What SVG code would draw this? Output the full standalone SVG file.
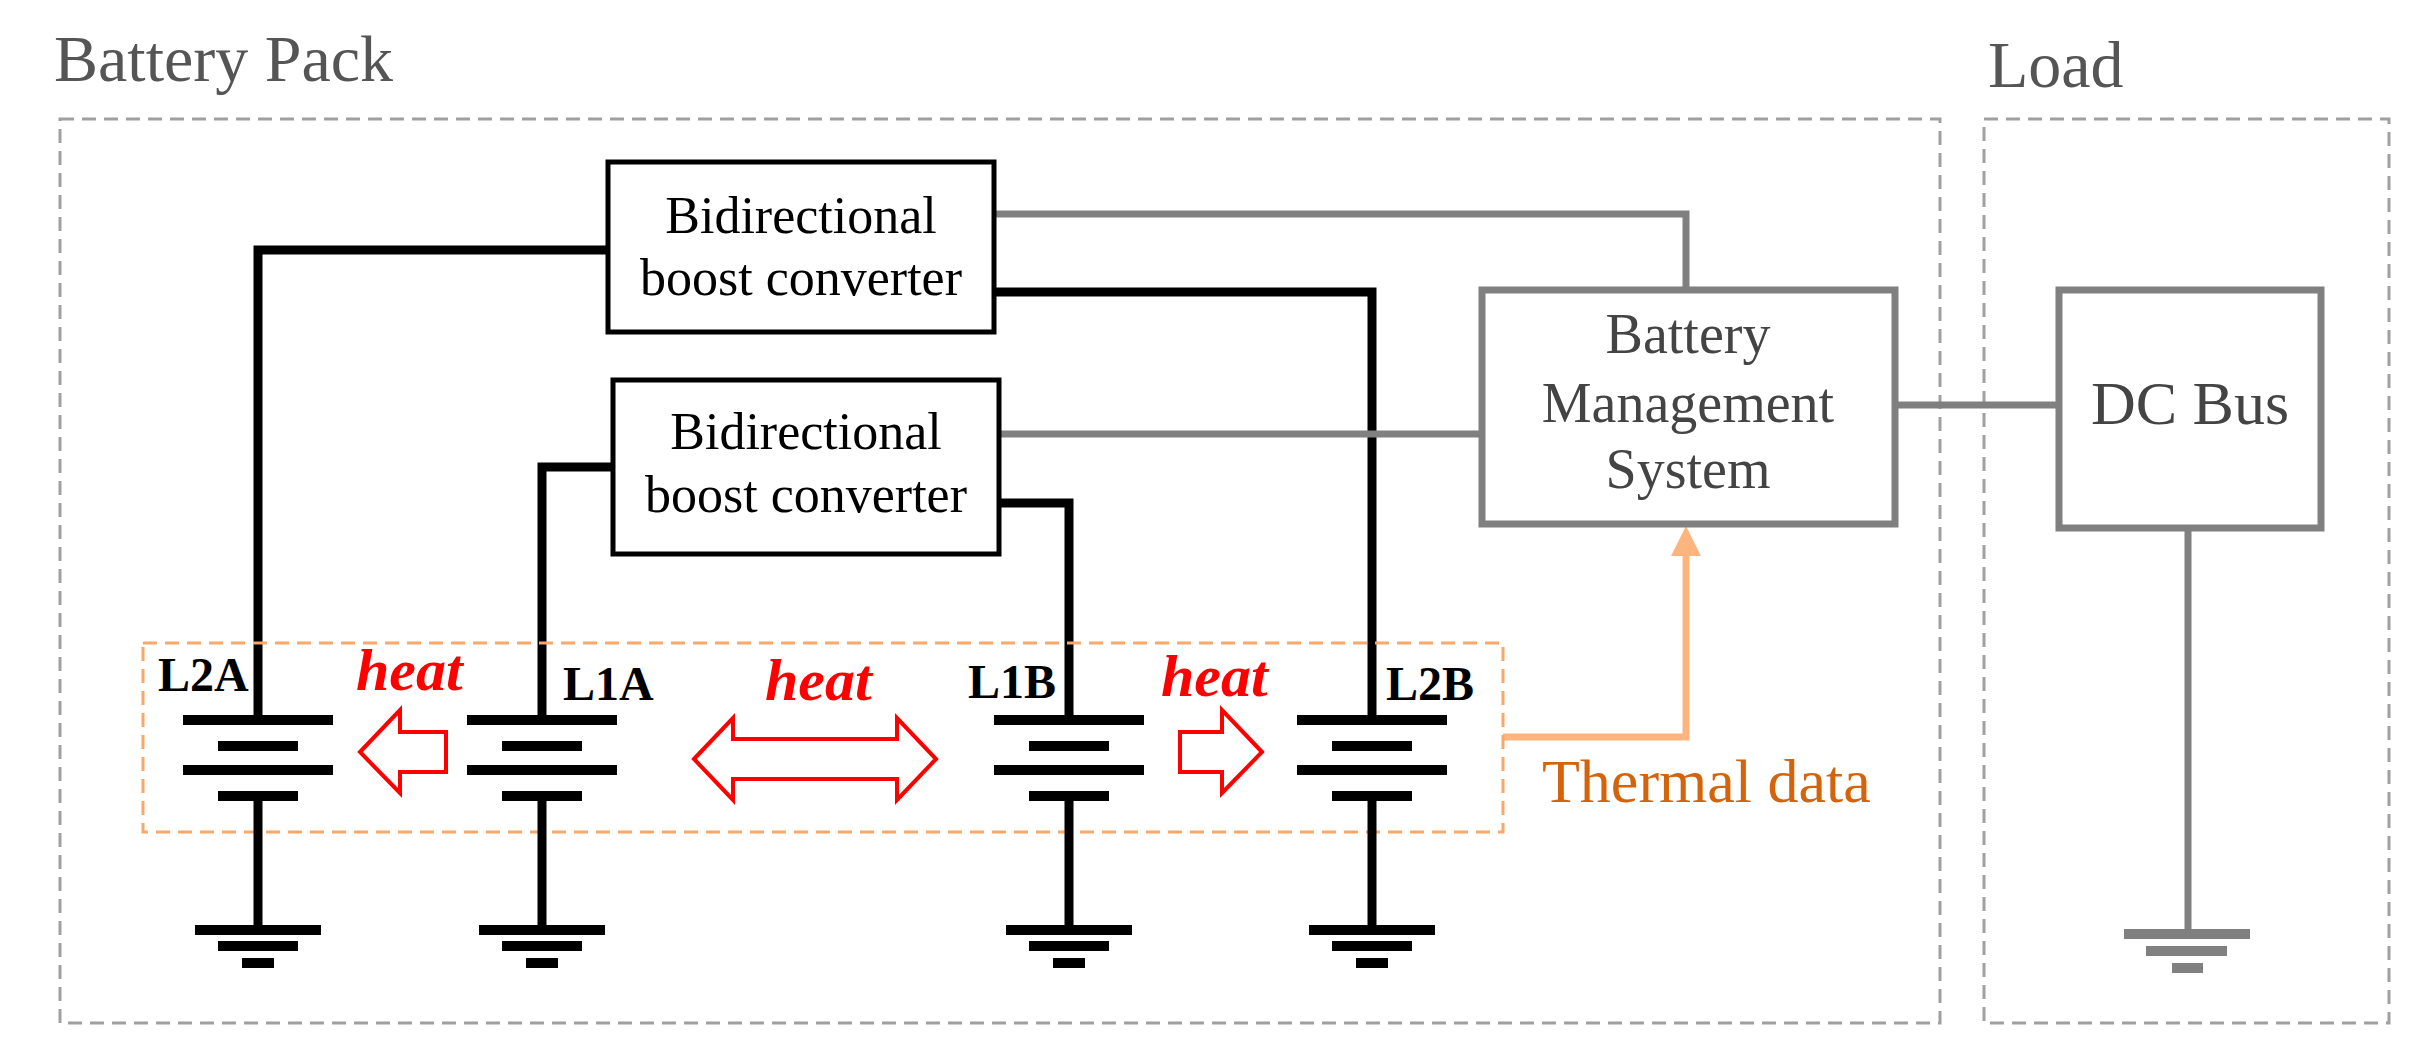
<svg xmlns="http://www.w3.org/2000/svg" width="2419" height="1050" viewBox="0 0 2419 1050">
<style>
.frame{fill:none;stroke:#a0a0a0;stroke-width:3;stroke-dasharray:14 8}
.box{fill:#fff;stroke:#000;stroke-width:5}
.gbox{fill:#fff;stroke:#808080;stroke-width:7}
.w{fill:none;stroke:#000;stroke-width:9}
.g{fill:none;stroke:#808080;stroke-width:7}
.plate{stroke:#000;stroke-width:10}
.t{font-family:"Liberation Serif",serif}
.lab{font-family:"Liberation Serif",serif;font-weight:bold;font-size:48px}
.heat{font-family:"Liberation Serif",serif;font-weight:bold;font-style:italic;font-size:60px;fill:#ff0000}
.ha{fill:#fff;stroke:#ff0000;stroke-width:4}
</style>
<g id="frames">
<rect class="frame" x="60" y="119" width="1880" height="904"/>
<rect class="frame" x="1984" y="119" width="405" height="904"/>
<text class="t" x="54" y="81" font-size="66" fill="#555">Battery  Pack</text>
<text class="t" x="1988" y="87" font-size="66" fill="#555">Load</text>
</g>
<g id="connectors">
<polyline class="w" points="608,250 258,250 258,720"/>
<polyline class="w" points="613,467 542,467 542,720"/>
<polyline class="w" points="999,503 1069,503 1069,720"/>
<polyline class="w" points="994,292 1372,292 1372,720"/>
<polyline class="g" points="994,214 1686,214 1686,290"/>
<line class="g" x1="999" y1="434" x2="1482" y2="434" stroke-width="5"/>
<line class="g" x1="1895" y1="405" x2="2059" y2="405" stroke-width="9"/>
<line class="g" x1="2188" y1="528" x2="2188" y2="934"/>
<polyline fill="none" stroke="#fdb580" stroke-width="7" points="1503,737 1686,737 1686,552"/>
<polygon fill="#fdb580" points="1686,526 1671,556 1701,556"/>
</g>
<g id="conv1"><rect class="box" x="608" y="162" width="386" height="170"/>
<text class="t" x="801" y="233" font-size="52" text-anchor="middle">Bidirectional</text>
<text class="t" x="801" y="295" font-size="52" text-anchor="middle">boost converter</text></g>
<g id="conv2"><rect class="box" x="613" y="380" width="386" height="174"/>
<text class="t" x="806" y="449" font-size="52" text-anchor="middle">Bidirectional</text>
<text class="t" x="806" y="512" font-size="52" text-anchor="middle">boost converter</text></g>
<g id="bms"><rect class="gbox" x="1482" y="290" width="413" height="234"/>
<text class="t" x="1688" y="353" font-size="56" text-anchor="middle" fill="#444">Battery</text>
<text class="t" x="1688" y="422" font-size="56" text-anchor="middle" fill="#444">Management</text>
<text class="t" x="1688" y="488" font-size="56" text-anchor="middle" fill="#444">System</text></g>
<g id="dcbus"><rect class="gbox" x="2059" y="290" width="262" height="238"/>
<text class="t" x="2190" y="424" font-size="62" text-anchor="middle" fill="#444">DC Bus</text>
<g stroke="#808080" stroke-width="10"><line x1="2124" y1="934" x2="2250" y2="934"/><line x1="2146" y1="951" x2="2227" y2="951"/><line x1="2172" y1="968" x2="2203" y2="968"/></g></g>
<g id="thermal">
<rect x="143" y="643" width="1360" height="189" fill="none" stroke="#f8a868" stroke-width="3" stroke-dasharray="14 8"/>
<text class="t" x="1542" y="802" font-size="62" fill="#d4640c">Thermal data</text>
</g>
<defs>
<g id="cell">
<line class="plate" x1="-75" y1="720" x2="75" y2="720"/>
<line class="plate" x1="-40" y1="746" x2="40" y2="746"/>
<line class="plate" x1="-75" y1="770" x2="75" y2="770"/>
<line class="plate" x1="-40" y1="796" x2="40" y2="796"/>
<line stroke="#000" stroke-width="9" x1="0" y1="796" x2="0" y2="930"/>
<line class="plate" x1="-63" y1="930" x2="63" y2="930"/>
<line class="plate" x1="-40" y1="946" x2="40" y2="946"/>
<line class="plate" x1="-16" y1="963" x2="16" y2="963"/>
</g>
</defs>
<g id="L2A"><use href="#cell" x="258"/><text class="lab" x="158" y="691">L2A</text></g>
<g id="L1A"><use href="#cell" x="542"/><text class="lab" x="563" y="700">L1A</text></g>
<g id="L1B"><use href="#cell" x="1069"/><text class="lab" x="968" y="698">L1B</text></g>
<g id="L2B"><use href="#cell" x="1372"/><text class="lab" x="1386" y="700">L2B</text></g>
<g id="heat">
<text class="heat" x="356" y="690">heat</text>
<text class="heat" x="765" y="700">heat</text>
<text class="heat" x="1161" y="696">heat</text>
<polygon class="ha" points="360,752 400,710 400,732 446,732 446,772 400,772 400,793"/>
<polygon class="ha" points="694,759 733,718 733,739 897,739 897,718 936,759 897,800 897,779 733,779 733,800"/>
<polygon class="ha" points="1262,752 1222,710 1222,732 1180,732 1180,772 1222,772 1222,793"/>
</g>
</svg>
